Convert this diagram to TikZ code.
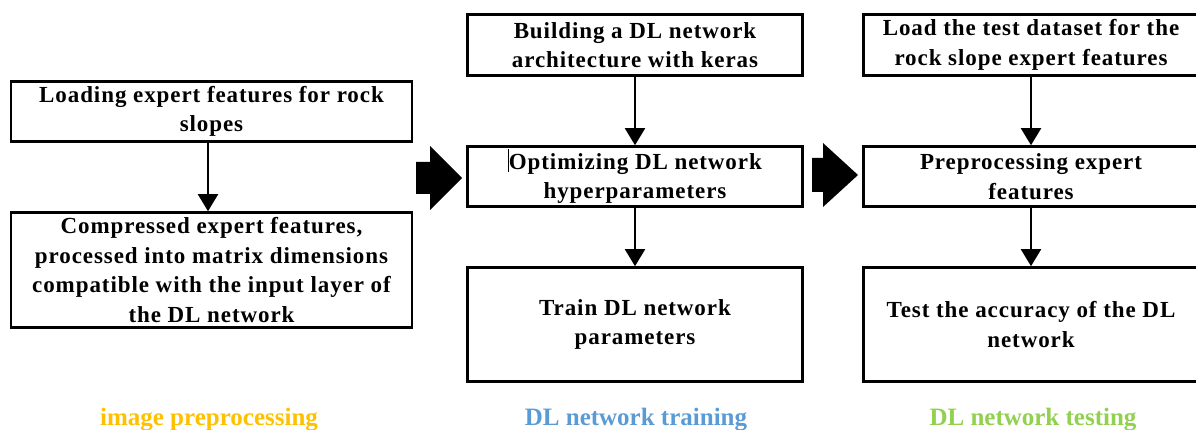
\documentclass[tikz,border=0pt]{standalone}
\usepackage{fontspec}
\setmainfont{Liberation Serif}
\usetikzlibrary{arrows.meta}
\definecolor{stageorange}{HTML}{FFC000}
\definecolor{stageblue}{HTML}{5B9BD5}
\definecolor{stagegreen}{HTML}{92D050}
\newfontfamily\boxfont[LetterSpace=4]{Liberation Serif}
\tikzset{
  stepbox/.style={draw=black, line width=2.6pt, inner sep=2pt, align=center,
    font=\boxfont\bfseries\fontsize{23}{29.5}\selectfont},
  flow/.style={line width=2pt, -{Triangle[width=20pt,length=17pt]}},
  stagelabel/.style={font=\bfseries\fontsize{25}{28}\selectfont, inner sep=0pt, anchor=base},
  blockarrow/.style={fill=black, draw=none}
}
\begin{document}
\begin{tikzpicture}[x=1pt,y=-1pt]
\useasboundingbox (0,0) rectangle (1196,430);
\clip (0,0) rectangle (1196,430);

% image preprocessing column
\node[stepbox, minimum width=401pt, minimum height=60pt] (L1) at (211.5,111.5)
  {Loading expert features for rock\\slopes};
\node[stepbox, minimum width=401pt, minimum height=115pt] (L2) at (211.5,270)
  {Compressed expert features,\\processed into matrix dimensions\\compatible with the input layer of\\the DL network};

% training column
\node[stepbox, minimum width=335pt, minimum height=61pt] (M1) at (635,45)
  {Building a DL network\\architecture with keras};
\node[stepbox, minimum width=335pt, minimum height=60pt] (M2) at (635,176.5)
  {\rule[-3pt]{0.7pt}{23pt}Optimizing DL network\\hyperparameters};
\node[stepbox, minimum width=335pt, minimum height=114pt] (M3) at (635,324.5)
  {Train DL network\\parameters};

% testing column (runs past the right margin)
\node[stepbox, minimum width=335pt, minimum height=61pt] (R1) at (1031,45)
  {Load the test dataset for the\\rock slope expert features};
\node[stepbox, minimum width=335pt, minimum height=60pt] (R2) at (1031,176.5)
  {Preprocessing expert\\features};
\node[stepbox, minimum width=335pt, minimum height=114pt] (R3) at (1031,324.5)
  {Test the accuracy of the DL\\network};

% vertical flow arrows
\draw[flow] ([xshift=-3.5pt]L1.south) -- ([xshift=-3.5pt]L2.north);
\draw[flow] (M1) -- (M2);
\draw[flow] (M2) -- (M3);
\draw[flow] (R1) -- (R2);
\draw[flow] (R2) -- (R3);

% block arrows between stages
\fill[blockarrow] (416,162) -- (430,162) -- (430,146) -- (462,178) -- (430,210) -- (430,194) -- (416,194) -- cycle;
\fill[blockarrow] (812,158) -- (823,158) -- (823,143) -- (858,175) -- (823,207) -- (823,192) -- (812,192) -- cycle;

% stage captions
\node[stagelabel, text=stageorange] (cap1) at (209,425) {image preprocessing};
\node[stagelabel, text=stageblue] (cap2) at (636,425) {DL network training};
\node[stagelabel, text=stagegreen] (cap3) at (1033,425) {DL network testing};
\end{tikzpicture}
\end{document}
